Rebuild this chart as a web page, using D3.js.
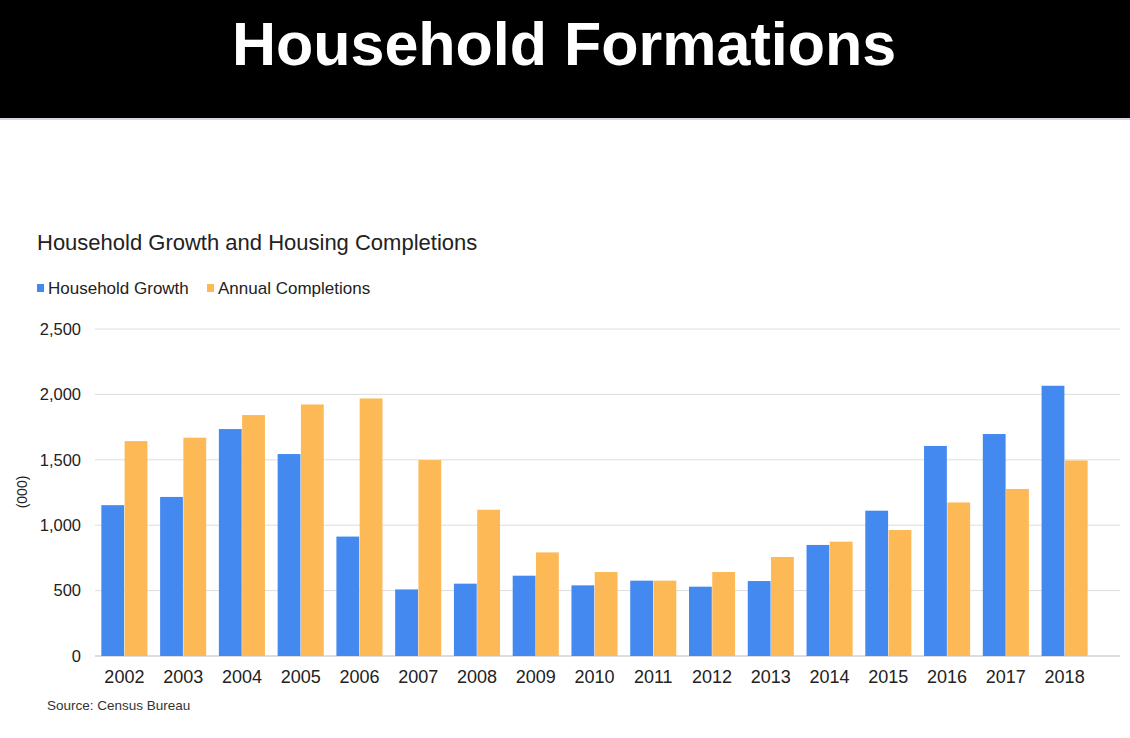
<!DOCTYPE html>
<html>
<head>
<meta charset="utf-8">
<script src="https://cdn.jsdelivr.net/npm/d3@7"></script>
<style>
  body { margin: 0; background: #fff; }
  text { font-family: "Liberation Sans", Arial, sans-serif; }
</style>
</head>
<body>
<svg id="chart" width="1130" height="738"></svg>
<script>
// data, thousands
var years = ["2002", "2003", "2004", "2005", "2006", "2007", "2008", "2009", "2010",
             "2011", "2012", "2013", "2014", "2015", "2016", "2017", "2018"];
var householdGrowth = [1153, 1216, 1735, 1544, 913, 509, 553, 614, 540,
                       576, 530, 573, 849, 1111, 1606, 1697, 2066];
var annualCompletions = [1643, 1669, 1842, 1923, 1969, 1498, 1118, 792, 642,
                         576, 642, 757, 874, 963, 1174, 1277, 1495];
var seriesNames = ["Household Growth", "Annual Completions"];
var yTicks = [0, 500, 1000, 1500, 2000, 2500];

var colors = ["#4489f0", "#fdb955"];

var svg = d3.select("#chart");

// black header band
svg.append("rect")
    .attr("x", 0).attr("y", 0)
    .attr("width", 1130).attr("height", 118)
    .attr("fill", "#000");
svg.append("rect")
    .attr("x", 0).attr("y", 118)
    .attr("width", 1130).attr("height", 2)
    .attr("fill", "#d8d4e0");
svg.append("text")
    .attr("x", 564).attr("y", 65)
    .attr("text-anchor", "middle")
    .attr("fill", "#fff")
    .attr("font-size", 61)
    .attr("font-weight", "bold")
    .text("Household Formations");

// chart title
svg.append("text")
    .attr("x", 37).attr("y", 250)
    .attr("font-size", 22)
    .attr("fill", "#222")
    .text("Household Growth and Housing Completions");

// legend
var legend = svg.append("g");
var legendX = [37, 207];
seriesNames.forEach(function (name, i) {
    legend.append("rect")
        .attr("x", legendX[i]).attr("y", 284)
        .attr("width", 7).attr("height", 8)
        .attr("fill", colors[i]);
    legend.append("text")
        .attr("x", legendX[i] + 11).attr("y", 294)
        .attr("font-size", 17)
        .attr("fill", "#222")
        .text(name);
});

// scales
var y = d3.scaleLinear()
    .domain([0, 2500])
    .range([656, 329]);

var x = d3.scaleBand()
    .domain(years)
    .range([95, 1094])
    .paddingInner(0.2)
    .paddingOuter(0.1);

var xSub = d3.scaleBand()
    .domain([0, 1])
    .range([0, x.bandwidth()])
    .padding(0.02);

// gridlines
svg.append("g")
    .selectAll("line")
    .data(yTicks)
    .enter()
    .append("line")
    .attr("x1", 95).attr("x2", 1120)
    .attr("y1", function (d) { return y(d); })
    .attr("y2", function (d) { return y(d); })
    .attr("stroke", function (d) { return d === 0 ? "#bbb" : "#ddd"; })
    .attr("stroke-width", 1);

// y axis labels
var yAxis = d3.axisLeft(y)
    .tickValues(yTicks)
    .tickSize(0)
    .tickPadding(0)
    .tickFormat(d3.format(","));
svg.append("g")
    .attr("transform", "translate(81,0)")
    .call(yAxis)
    .call(function (g) { g.select(".domain").remove(); })
    .selectAll("text")
    .attr("font-size", 16.5)
    .attr("fill", "#222")
    .attr("font-family", "Liberation Sans, Arial, sans-serif");

svg.append("text")
    .attr("transform", "translate(27,492) rotate(-90)")
    .attr("text-anchor", "middle")
    .attr("font-size", 14)
    .attr("fill", "#222")
    .text("(000)");

// bars
var rows = years.map(function (yr, i) {
    return { year: yr, values: [householdGrowth[i], annualCompletions[i]] };
});

var groups = svg.append("g")
    .selectAll("g")
    .data(rows)
    .enter()
    .append("g")
    .attr("transform", function (d) { return "translate(" + x(d.year) + ",0)"; });

groups.selectAll("rect")
    .data(function (d) { return d.values; })
    .enter()
    .append("rect")
    .attr("x", function (d, i) { return xSub(i); })
    .attr("width", xSub.bandwidth())
    .attr("y", function (d) { return y(d); })
    .attr("height", function (d) { return y(0) - y(d); })
    .attr("fill", function (d, i) { return colors[i]; });

// x axis labels
var xAxis = d3.axisBottom(x).tickSize(0).tickPadding(0);
svg.append("g")
    .attr("transform", "translate(0,670)")
    .call(xAxis)
    .call(function (g) { g.select(".domain").remove(); })
    .selectAll("text")
    .attr("font-size", 18)
    .attr("fill", "#222")
    .attr("font-family", "Liberation Sans, Arial, sans-serif");

// source note
svg.append("text")
    .attr("x", 47).attr("y", 710)
    .attr("font-size", 13.5)
    .attr("fill", "#333")
    .text("Source: Census Bureau");
</script>
</body>
</html>
